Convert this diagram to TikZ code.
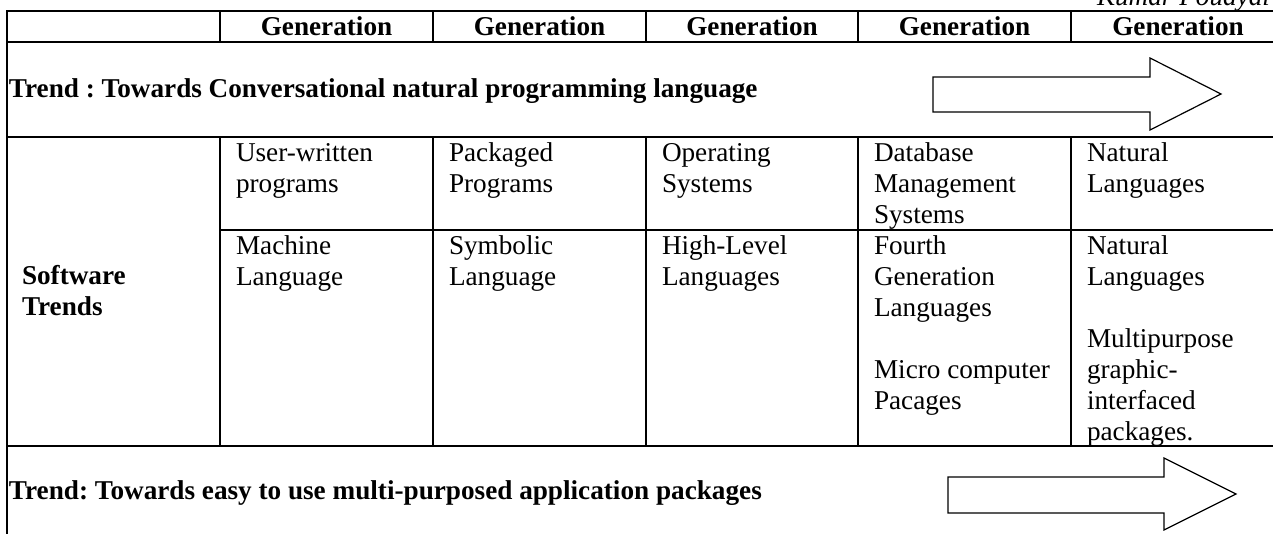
\documentclass[tikz,border=0pt]{standalone}
\usepackage{fontspec}
\setmainfont{Liberation Serif}
\frenchspacing
\newcommand\cellt[1]{\begin{tabular}[t]{@{}l@{}}#1\end{tabular}}
\begin{document}
\begin{tikzpicture}[x=1pt,y=-1pt,
  rule/.style={line width=1.8pt,line cap=rect},
  txt/.style={inner sep=0pt,outer sep=0pt,font=\fontsize{27.2}{31}\selectfont},
  bold/.style={txt,font=\fontsize{27.2}{31}\selectfont\bfseries},
  cellbox/.style={txt,anchor=base west},
  gen/.style={bold,anchor=base},
  bigarrow/.style={draw=black,line width=1.2pt,fill=white,line join=miter}]
\fill[white] (0,0) rectangle (1273,533);
\useasboundingbox (0,0) rectangle (1273,533);
% table rules
\draw[rule] (7,11) -- (1290,11);
\draw[rule] (7,42) -- (1290,42);
\draw[rule] (7,137) -- (1290,137);
\draw[rule] (220,230) -- (1290,230);
\draw[rule] (7,446) -- (1290,446);
\draw[rule] (7,11) -- (7,540);
\foreach \cx in {220,433,646,858,1071}{
  \draw[rule] (\cx,11) -- (\cx,42);
  \draw[rule] (\cx,137) -- (\cx,446);
}
% running header
\node[txt,font=\fontsize{27.2}{31}\selectfont\itshape,anchor=base east] (author) at (1270,5) {Kumar Poudyal};
% header row
\node[gen] (g1) at (326.5,35) {Generation};
\node[gen] (g2) at (539.5,35) {Generation};
\node[gen] (g3) at (752,35) {Generation};
\node[gen] (g4) at (964.5,35) {Generation};
\node[gen] (g5) at (1178,35) {Generation};
% trend 1
\node[bold,anchor=base west] (trend1) at (9,97) {Trend : Towards Conversational natural programming language};
\draw[bigarrow] (933,77) -- (1150,77) -- (1150,58) -- (1221,94) -- (1150,130) -- (1150,112) -- (933,112) -- cycle;
% software trends
\node[bold,anchor=base west] (sw) at (22,284.5) {\cellt{Software\\Trends}};
% row 1
\node[cellbox] (r1c1) at (236,161) {\cellt{User-written\\programs}};
\node[cellbox] (r1c2) at (449,161) {\cellt{Packaged\\Programs}};
\node[cellbox] (r1c3) at (662,161) {\cellt{Operating\\Systems}};
\node[cellbox] (r1c4) at (874,161) {\cellt{Database\\Management\\Systems}};
\node[cellbox] (r1c5) at (1087,161) {\cellt{Natural\\Languages}};
% row 2
\node[cellbox] (r2c1) at (236,254) {\cellt{Machine\\Language}};
\node[cellbox] (r2c2) at (449,254) {\cellt{Symbolic\\Language}};
\node[cellbox] (r2c3) at (662,254) {\cellt{High-Level\\Languages}};
\node[cellbox] (r2c4) at (874,254) {\cellt{Fourth\\Generation\\Languages\\ \\Micro computer\\Pacages}};
\node[cellbox] (r2c5) at (1087,254) {\cellt{Natural\\Languages\\ \\Multipurpose\\graphic-\\interfaced\\packages.}};
% trend 2
\node[bold,anchor=base west] (trend2) at (9,499) {Trend: Towards easy to use multi-purposed application packages};
\draw[bigarrow] (948,477) -- (1164,477) -- (1164,458) -- (1236,494) -- (1164,530) -- (1164,513) -- (948,513) -- cycle;
\end{tikzpicture}
\end{document}
